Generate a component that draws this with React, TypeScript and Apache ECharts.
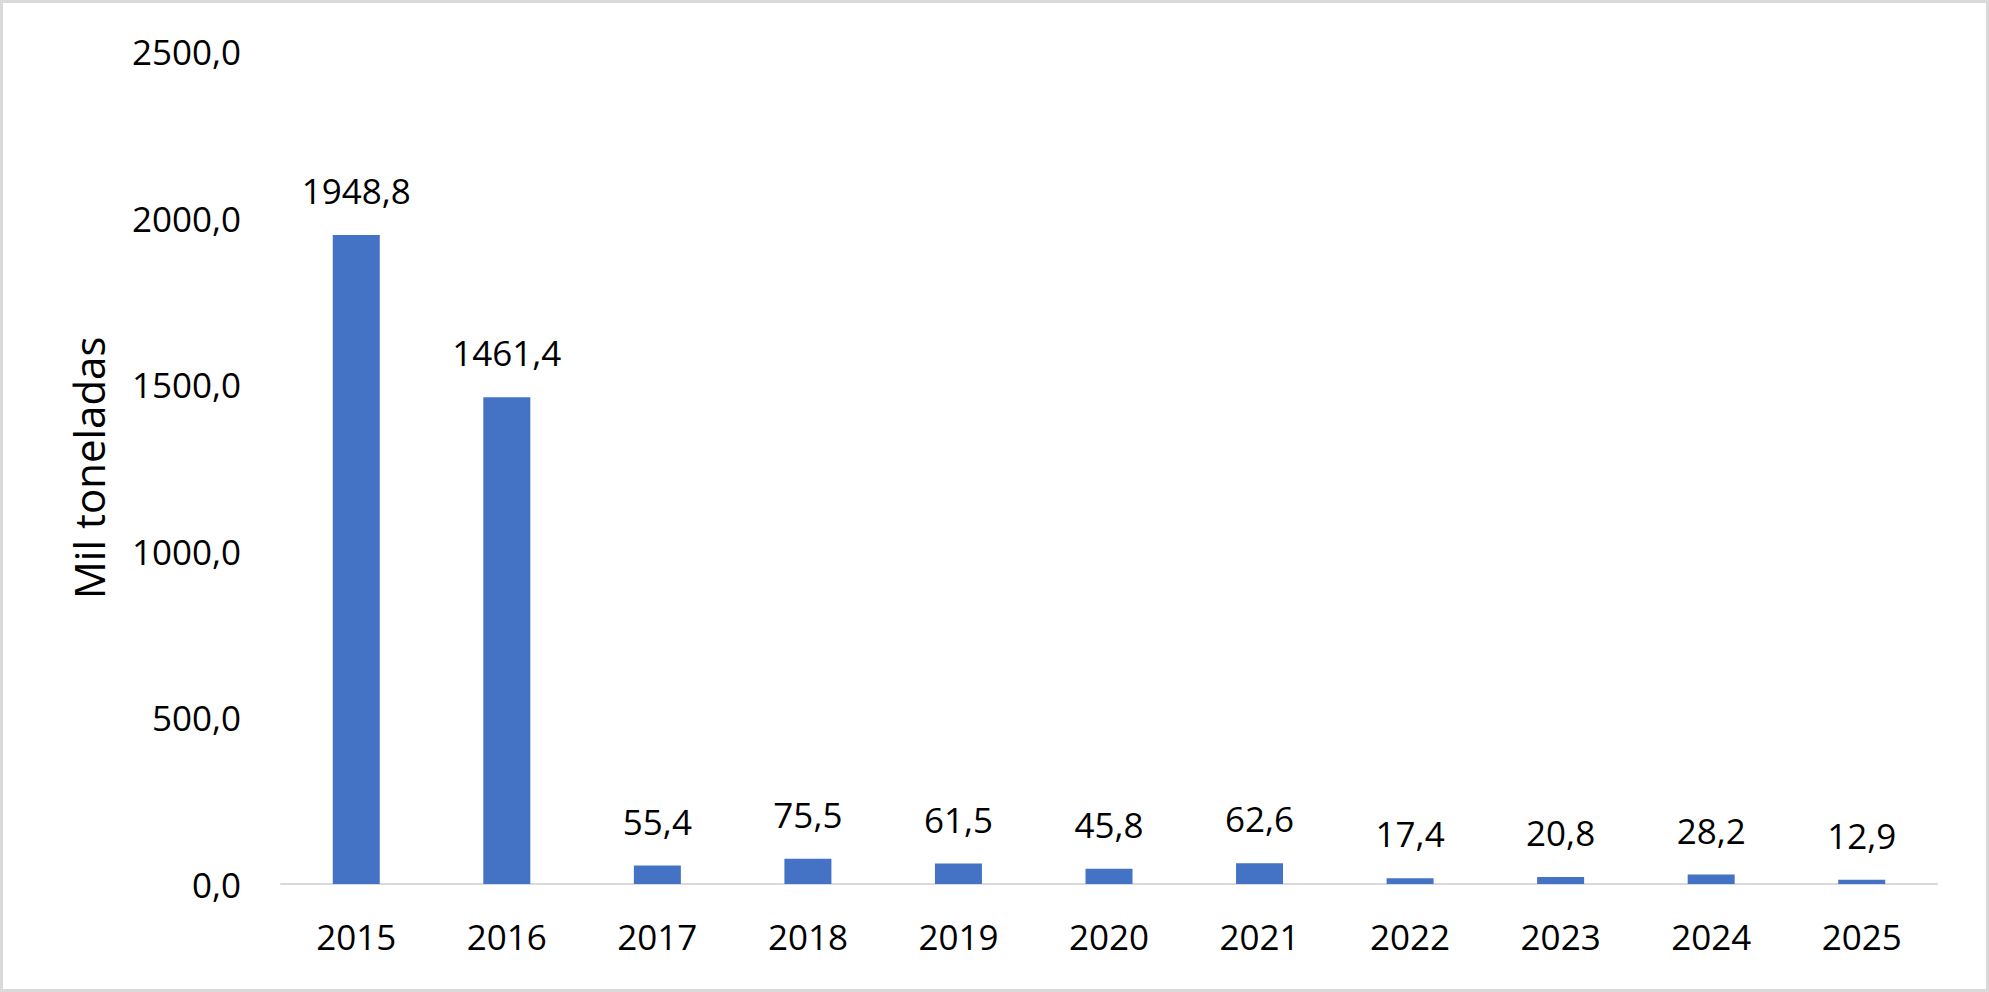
import React, { useEffect, useRef } from "react";
import * as echarts from "echarts";

const categories = ["2015", "2016", "2017", "2018", "2019", "2020", "2021", "2022", "2023", "2024", "2025"];
const values = [1948.8, 1461.4, 55.4, 75.5, 61.5, 45.8, 62.6, 17.4, 20.8, 28.2, 12.9];
const yAxisTitle = "Mil toneladas";

const fmt = (v: number) => v.toFixed(1).replace(".", ",");
const FONT = "'Open Sans', 'Noto Sans', sans-serif";

export default function App() {
  const ref = useRef<HTMLDivElement>(null);
  useEffect(() => {
    if (!ref.current) return;
    const chart = echarts.init(ref.current, undefined, { renderer: "svg" });
    chart.setOption({
      animation: false,
      backgroundColor: "#ffffff",
      textStyle: { fontFamily: FONT },
      graphic: [
        {
          type: "rect",
          shape: { x: 1.5, y: 1.5, width: 1986, height: 989 },
          style: { fill: "none", stroke: "#d9d9d9", lineWidth: 3 },
          silent: true,
        },
      ],
      grid: { left: 281, right: 52, top: 51.5, bottom: 108, containLabel: false },
      xAxis: {
        type: "category",
        data: categories,
        axisTick: { show: false },
        axisLine: { lineStyle: { color: "#d9d9d9", width: 2 } },
        axisLabel: { color: "#000000", fontSize: 35, fontFamily: FONT, margin: 35 },
      },
      yAxis: {
        type: "value",
        min: 0,
        max: 2500,
        interval: 500,
        name: yAxisTitle,
        nameLocation: "middle",
        nameGap: 172,
        nameTextStyle: { color: "#000000", fontSize: 42, fontFamily: FONT },
        axisLine: { show: false },
        axisTick: { show: false },
        splitLine: { show: false },
        axisLabel: {
          color: "#000000",
          fontSize: 35,
          fontFamily: FONT,
          margin: 40,
          formatter: (v: number) => fmt(v),
        },
      },
      series: [
        {
          type: "bar",
          data: values,
          barWidth: 47,
          itemStyle: { color: "#4472C4" },
          label: {
            show: true,
            position: "top",
            distance: 27,
            color: "#000000",
            fontSize: 35,
            fontFamily: FONT,
            formatter: (p: any) => fmt(p.value),
          },
        },
      ],
    });
    return () => chart.dispose();
  }, []);
  return (
    <div
      ref={ref}
      style={{ position: "fixed", left: 0, top: 0, width: 1989, height: 992 }}
    />
  );
}
